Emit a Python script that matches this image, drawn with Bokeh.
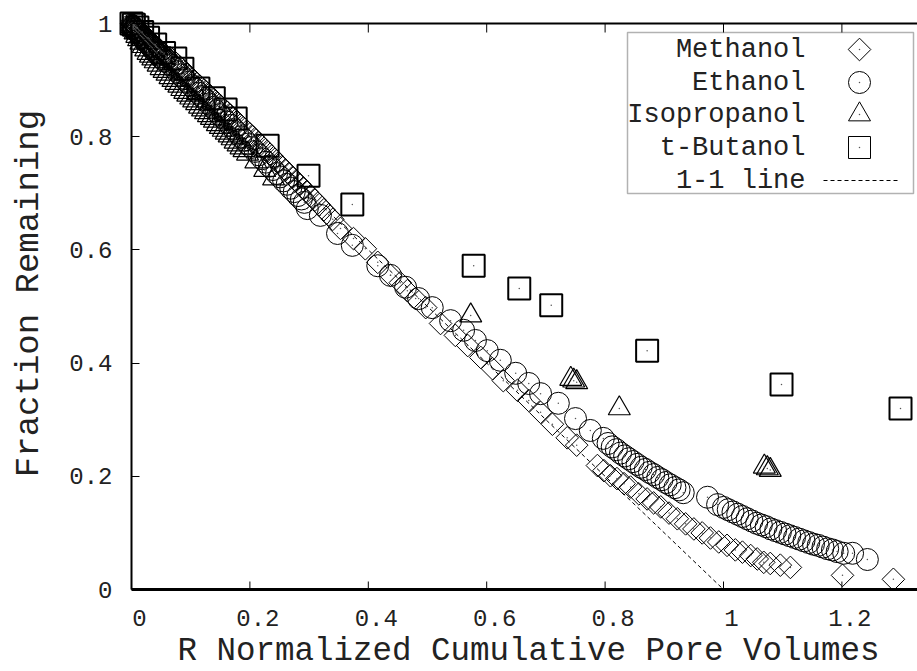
from bokeh.plotting import figure
from bokeh.models import Range1d, LinearAxis, FixedTicker, Label, BoxAnnotation
from bokeh.embed import file_html
from bokeh.resources import INLINE
import math

FONT = "Liberation Mono"
INK = "#222222"

# ---- data -------------------------------------------------------------
methanol_x = [0.0, 0.001, 0.002, 0.003, 0.004, 0.005, 0.006, 0.007, 0.008, 0.009,
              0.01, 0.012, 0.014, 0.016, 0.018, 0.02, 0.022, 0.024, 0.026, 0.028,
              0.03, 0.032, 0.034, 0.036, 0.038, 0.04, 0.042, 0.044, 0.046, 0.048,
              0.05, 0.052, 0.055, 0.058, 0.06,
              0.065, 0.069, 0.074, 0.078, 0.082, 0.086, 0.091, 0.095, 0.099, 0.103,
              0.107, 0.111, 0.116, 0.12, 0.125, 0.129, 0.133, 0.138, 0.142, 0.146,
              0.151, 0.156, 0.162, 0.167, 0.172, 0.178, 0.184, 0.189, 0.195, 0.2,
              0.205, 0.21, 0.215, 0.221, 0.226, 0.231, 0.237, 0.242, 0.248, 0.254,
              0.26, 0.266, 0.272, 0.278, 0.284, 0.29, 0.296, 0.303, 0.31, 0.317,
              0.325, 0.333, 0.34,
              0.353, 0.375, 0.395, 0.416, 0.4375, 0.454, 0.466, 0.48, 0.497, 0.522,
              0.547, 0.568, 0.59, 0.61, 0.628, 0.652, 0.671, 0.691, 0.711, 0.736,
              0.752, 0.787, 0.798, 0.809, 0.82, 0.832, 0.843, 0.857, 0.871, 0.882,
              0.894, 0.908, 0.922, 0.936, 0.95, 0.964, 0.978, 0.992, 1.006, 1.02,
              1.032, 1.046, 1.057, 1.068, 1.079, 1.096, 1.113, 1.201, 1.287]
methanol_y = [1.0, 0.999, 0.999, 0.998, 0.997, 0.996, 0.995, 0.994, 0.993, 0.992,
              0.991, 0.989, 0.987, 0.985, 0.983, 0.981, 0.979, 0.977, 0.975, 0.973,
              0.971, 0.969, 0.967, 0.965, 0.963, 0.961, 0.959, 0.957, 0.955, 0.953,
              0.951, 0.949, 0.946, 0.943, 0.941,
              0.94, 0.936, 0.931, 0.927, 0.923, 0.919, 0.914, 0.91, 0.906, 0.902,
              0.898, 0.894, 0.889, 0.885, 0.88, 0.876, 0.872, 0.867, 0.863, 0.859,
              0.854, 0.849, 0.843, 0.838, 0.833, 0.827, 0.821, 0.816, 0.81, 0.805,
              0.8, 0.794, 0.789, 0.783, 0.777, 0.772, 0.766, 0.76, 0.754, 0.747,
              0.741, 0.735, 0.728, 0.722, 0.716, 0.709, 0.703, 0.695, 0.688, 0.68,
              0.671, 0.662, 0.654,
              0.638, 0.62, 0.602, 0.578, 0.555, 0.542, 0.528, 0.514, 0.498, 0.47,
              0.449, 0.431, 0.41, 0.39, 0.369, 0.352, 0.334, 0.313, 0.292, 0.268,
              0.255, 0.219, 0.21, 0.201, 0.196, 0.187, 0.181, 0.169, 0.16, 0.153,
              0.146, 0.135, 0.125, 0.116, 0.107, 0.1, 0.091, 0.084, 0.078, 0.07,
              0.066, 0.06, 0.054, 0.048, 0.046, 0.043, 0.039, 0.025, 0.018]

ethanol_x = [0.0, 0.0015, 0.003, 0.0045, 0.006, 0.0075, 0.009, 0.011, 0.013, 0.015,
             0.017, 0.019, 0.021, 0.023, 0.025, 0.027, 0.029, 0.031, 0.033, 0.035,
             0.037, 0.039, 0.041, 0.043, 0.046, 0.049, 0.052, 0.056,
             0.061, 0.066, 0.071,
             0.077, 0.083, 0.089, 0.095, 0.101, 0.107, 0.113, 0.119, 0.125, 0.131,
             0.137, 0.143, 0.149, 0.155, 0.161, 0.167, 0.173, 0.179, 0.185, 0.191,
             0.197, 0.203, 0.209, 0.215, 0.221, 0.227, 0.233, 0.239, 0.245, 0.251,
             0.257, 0.263, 0.269, 0.275, 0.281, 0.287, 0.292,
             0.297, 0.319, 0.348, 0.373, 0.416, 0.4375, 0.463, 0.485, 0.508, 0.539,
             0.561, 0.581, 0.601, 0.623, 0.649, 0.671, 0.691, 0.721, 0.75, 0.775,
             0.797, 0.805, 0.812, 0.819, 0.826, 0.833, 0.84, 0.847, 0.854, 0.861,
             0.868, 0.875, 0.882, 0.889, 0.896, 0.903, 0.91, 0.918, 0.925, 0.932,
             0.973, 0.99, 1.0, 1.008, 1.016, 1.024, 1.032, 1.04, 1.048, 1.056,
             1.064, 1.072, 1.08, 1.088, 1.096, 1.104, 1.112, 1.12, 1.128, 1.136,
             1.144, 1.152, 1.16, 1.168, 1.176, 1.184, 1.192, 1.203, 1.218, 1.243]
ethanol_y = [0.997, 0.995, 0.993, 0.991, 0.99, 0.988, 0.986, 0.984, 0.982, 0.979,
             0.977, 0.975, 0.973, 0.97, 0.968, 0.966, 0.964, 0.961, 0.959, 0.957,
             0.954, 0.952, 0.95, 0.948, 0.944, 0.941, 0.938, 0.934,
             0.932, 0.927, 0.922,
             0.915, 0.909, 0.903, 0.896, 0.89, 0.884, 0.877, 0.871, 0.865, 0.858,
             0.852, 0.845, 0.839, 0.833, 0.826, 0.82, 0.813, 0.807, 0.8, 0.794,
             0.787, 0.781, 0.774, 0.768, 0.761, 0.755, 0.748, 0.742, 0.735, 0.729,
             0.722, 0.716, 0.709, 0.703, 0.696, 0.69, 0.684,
             0.673, 0.661, 0.629, 0.608, 0.572, 0.555, 0.534, 0.514, 0.498, 0.475,
             0.458, 0.44, 0.422, 0.405, 0.382, 0.364, 0.346, 0.329, 0.302, 0.281,
             0.267, 0.258, 0.252, 0.247, 0.241, 0.236, 0.231, 0.226, 0.221, 0.216,
             0.212, 0.207, 0.203, 0.198, 0.194, 0.189, 0.185, 0.18, 0.176, 0.171,
             0.163, 0.15, 0.145, 0.141, 0.137, 0.133, 0.129, 0.125, 0.121, 0.117,
             0.114, 0.111, 0.107, 0.104, 0.101, 0.098, 0.095, 0.092, 0.089, 0.086,
             0.083, 0.08, 0.078, 0.075, 0.072, 0.07, 0.067, 0.064, 0.064, 0.053]

isopropanol_x = [0.0, 0.003, 0.006, 0.009, 0.012, 0.016, 0.02, 0.024, 0.028, 0.032,
                 0.036, 0.04, 0.045, 0.05, 0.055, 0.06, 0.065, 0.07, 0.075, 0.08,
                 0.085, 0.09, 0.095, 0.1, 0.105, 0.11, 0.115, 0.12, 0.125, 0.13,
                 0.135, 0.14, 0.145, 0.15, 0.155, 0.16, 0.165, 0.17, 0.175, 0.18,
                 0.185, 0.19, 0.196, 0.21, 0.225, 0.24,
                 0.573, 0.742, 0.747, 0.752, 0.824, 1.069, 1.074, 1.079]
isopropanol_y = [0.995, 0.99, 0.984, 0.978, 0.972, 0.966, 0.96, 0.954, 0.948, 0.943,
                 0.938, 0.933, 0.927, 0.921, 0.916, 0.911, 0.905, 0.9, 0.895, 0.89,
                 0.884, 0.879, 0.874, 0.869, 0.864, 0.859, 0.853, 0.848, 0.843, 0.838,
                 0.833, 0.828, 0.822, 0.817, 0.812, 0.807, 0.802, 0.797, 0.791, 0.786,
                 0.781, 0.776, 0.77, 0.756, 0.741, 0.726,
                 0.484, 0.372, 0.369, 0.366, 0.32, 0.217, 0.214, 0.211]

tbutanol_x = [0.0, 0.004, 0.01, 0.018, 0.028, 0.04, 0.055, 0.074, 0.086, 0.113,
              0.139, 0.159, 0.176, 0.23, 0.299, 0.373, 0.578, 0.655, 0.709, 0.871,
              1.098, 1.299]
tbutanol_y = [1.0, 0.998, 0.993, 0.985, 0.975, 0.963, 0.948, 0.938, 0.92, 0.885,
              0.868, 0.848, 0.832, 0.784, 0.731, 0.68, 0.572, 0.532, 0.502, 0.422,
              0.362, 0.32]

# 1-1 reference line
one_to_one_x = [0.0, 1.0]
one_to_one_y = [1.0, 0.0]

x_ticks = [0, 0.2, 0.4, 0.6, 0.8, 1.0, 1.2]
y_ticks = [0, 0.2, 0.4, 0.6, 0.8, 1.0]

x_title = "R Normalized Cumulative Pore Volumes"
y_title = "Fraction Remaining"

# ---- figure -------------------------------------------------------------
# The frame fills the whole canvas; both axes are pinned at 0 so that the
# plot box (0..X_END, 0..1) sits at 131..917 x 23..589 px and the tick
# labels and titles use the room around it.
SX, SY = 592.0, 566.0               # px per data unit
X_START, X_END = -131 / SX, (917 - 131) / SX
Y_START, Y_END = -(671 - 589) / SY, 1 + 23 / SY

p = figure(width=917, height=671, x_range=Range1d(X_START, X_END),
           y_range=Range1d(Y_START, Y_END),
           output_backend="svg", toolbar_location=None,
           x_axis_location=None, y_axis_location=None,
           min_border=0, min_border_left=0, min_border_right=0, min_border_top=0,
           min_border_bottom=0)
p.outline_line_color = None
p.background_fill_color = "white"
p.border_fill_color = "white"
for g in p.grid:
    g.visible = False


def px_x(px):
    return (px - 131) / SX


def px_y(py):
    return (589 - py) / SY


# x tick labels sit a few pixels right of their ticks
SHIFT = 8 / SX
p.extra_x_ranges = {"xlab": Range1d(X_START - SHIFT, X_END - SHIFT)}

bottom = LinearAxis(ticker=FixedTicker(ticks=x_ticks), x_range_name="xlab",
                    fixed_location=0, bounds=(-SHIFT, X_END - SHIFT))
bottom.axis_line_width = 3
bottom.axis_line_color = "black"
bottom.major_tick_line_color = None
bottom.minor_tick_line_color = None
bottom.major_tick_in = 0
bottom.major_tick_out = 0
bottom.major_label_standoff = 20
bottom.major_label_text_font = FONT
bottom.major_label_text_font_size = "24px"
bottom.major_label_text_color = INK
p.add_layout(bottom, "below")

left = LinearAxis(ticker=FixedTicker(ticks=y_ticks), fixed_location=0, bounds=(0, 1))
left.major_tick_in = 8
left.major_tick_out = 0
left.minor_tick_line_color = None
left.axis_line_width = 2
left.axis_line_color = "black"
left.major_tick_line_color = "black"
left.major_label_standoff = 19
left.major_label_text_font = FONT
left.major_label_text_font_size = "24px"
left.major_label_text_color = INK
p.add_layout(left, "left")

# top edge of the plot box and inward ticks on top / bottom
p.segment(x0=[0], y0=[1], x1=[X_END], y1=[1], line_color="black", line_width=2)
p.segment(x0=x_ticks, y0=[0] * len(x_ticks), x1=x_ticks, y1=[8 / SY] * len(x_ticks),
          line_color="black", line_width=1)
p.segment(x0=x_ticks, y0=[1] * len(x_ticks), x1=x_ticks, y1=[1 - 9 / SY] * len(x_ticks),
          line_color="black", line_width=1)

# axis titles
p.add_layout(Label(x=px_x(528), y=px_y(651), text=x_title, text_align="center",
                   text_baseline="middle", text_font=FONT, text_font_size="32.5px",
                   text_color=INK))
p.add_layout(Label(x=px_x(28), y=px_y(293), text=y_title, angle=math.pi / 2,
                   text_align="center", text_baseline="middle", text_font=FONT,
                   text_font_size="34px", text_color=INK))

# ---- series -------------------------------------------------------------
p.line(one_to_one_x, one_to_one_y, line_color="black", line_width=1, line_dash="4 3")

common = dict(fill_color=None, line_color="black")
p.scatter(methanol_x, methanol_y, marker="square", angle=math.pi / 4, size=16,
          line_width=1, **common)
p.scatter(ethanol_x, ethanol_y, marker="circle", size=22, line_width=1, **common)
p.scatter(isopropanol_x, isopropanol_y, marker="triangle", size=22, line_width=1.2, **common)
p.scatter(tbutanol_x, tbutanol_y, marker="square", size=22, line_width=2, **common)

for xs, ys in [(methanol_x, methanol_y), (ethanol_x, ethanol_y),
               (isopropanol_x, isopropanol_y), (tbutanol_x, tbutanol_y)]:
    p.scatter(xs, ys, marker="dot", size=6, line_color="#555555")

# ---- legend (label on the left, key on the right) -----------------------
p.add_layout(BoxAnnotation(left=px_x(627), right=px_x(913), top=px_y(32), bottom=px_y(193),
                           fill_alpha=0, line_color="black", line_width=1.5))

legend_rows = [("Methanol", 49), ("Ethanol", 82), ("Isopropanol", 114), ("t-Butanol", 147),
               ("1-1 line", 180)]
for text, row in legend_rows:
    p.add_layout(Label(x=px_x(805), y=px_y(row), text=text, text_align="right",
                       text_baseline="middle", text_font=FONT, text_font_size="27px",
                       text_color=INK))

key_x = px_x(859)
p.scatter([key_x], [px_y(49)], marker="square", angle=math.pi / 4, size=16, line_width=1, **common)
p.scatter([key_x], [px_y(82)], marker="circle", size=22, line_width=1, **common)
p.scatter([key_x], [px_y(114)], marker="triangle", size=22, line_width=1, **common)
p.scatter([key_x], [px_y(147)], marker="square", size=22, line_width=1, **common)
p.scatter([key_x] * 4, [px_y(49), px_y(82), px_y(114), px_y(147)], marker="dot", size=6,
          line_color="#555555")
p.line([px_x(823), px_x(897)], [px_y(180), px_y(180)], line_color="black", line_width=1,
       line_dash="4 3")

open("out.html", "w").write(file_html(p, INLINE))
